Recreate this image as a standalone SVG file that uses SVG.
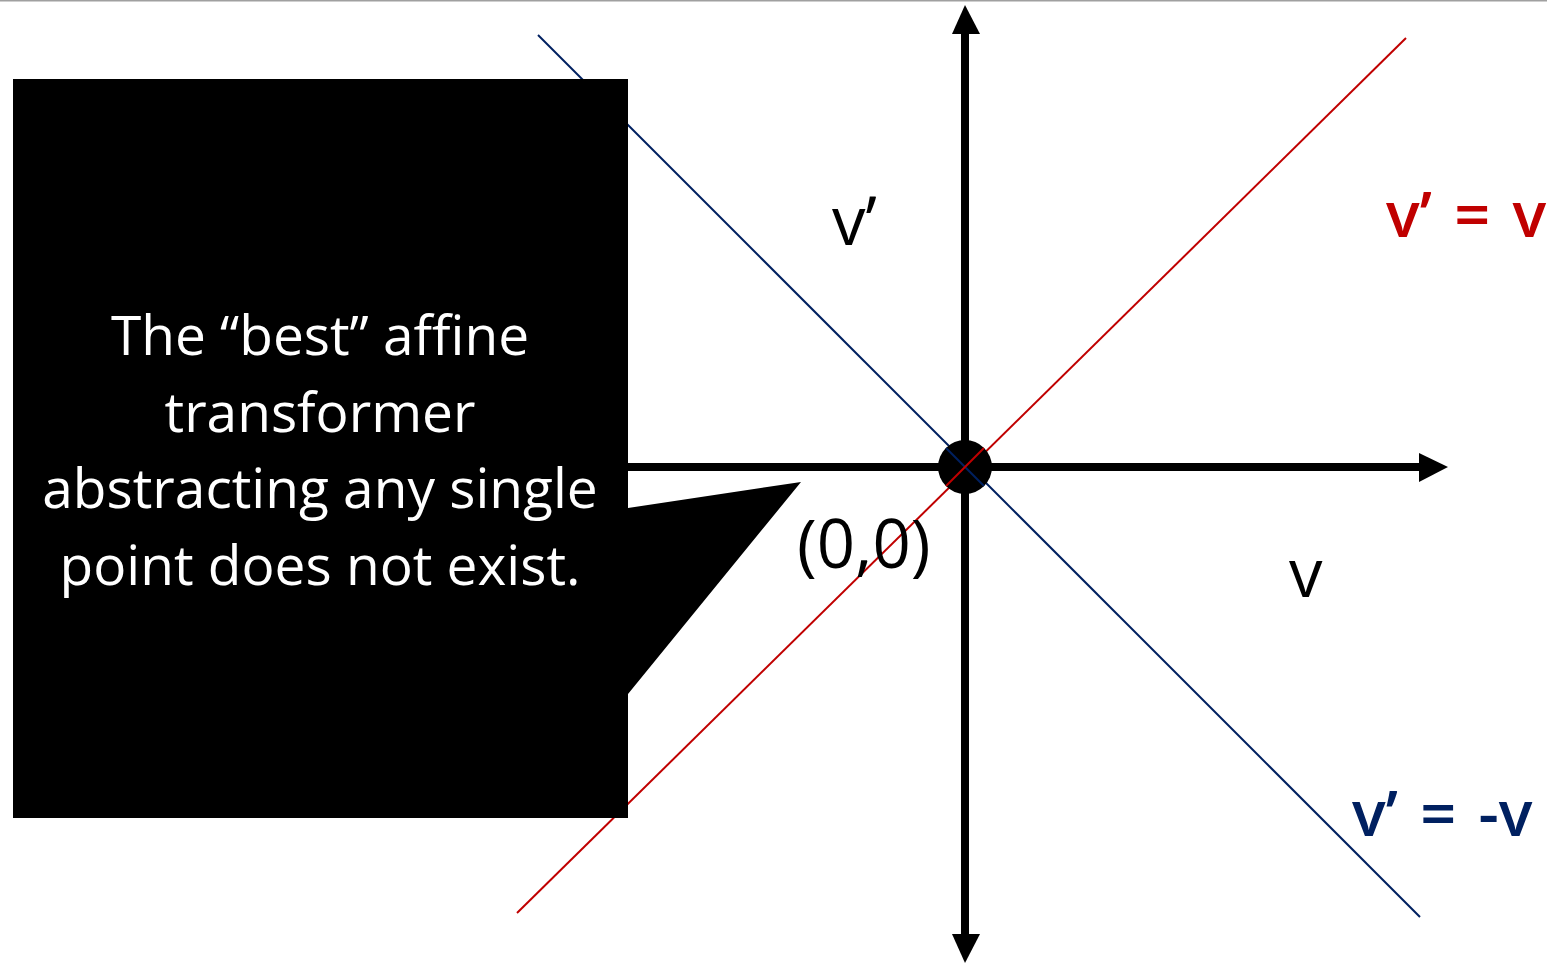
<svg xmlns="http://www.w3.org/2000/svg" width="1547" height="963" viewBox="0 0 1547 963">
<style>
.lbl{font-family:"Open Sans","Noto Sans",sans-serif;font-size:67px}
.clr{font-family:"Open Sans","Noto Sans",sans-serif;font-size:63px;font-weight:600;word-spacing:6px}
.call{font-family:"Open Sans","Noto Sans",sans-serif;font-size:55px;fill:#fff;text-anchor:middle}
.ax{stroke:#000;stroke-width:8;fill:none}
</style>
<rect width="1547" height="963" fill="#fff"/>
<line x1="0" y1="0.5" x2="1547" y2="0.5" stroke="#a0a0a0" stroke-width="2"/>
<g id="connectors">
<line class="ax" x1="965" y1="30" x2="965" y2="938"/>
<polygon points="965,5 952,34 980,34"/>
<polygon points="965,963 952,934 980,934"/>
<line class="ax" x1="400" y1="467" x2="1422" y2="467"/>
<polygon points="1448,467 1419,453 1419,482"/>
<line x1="538" y1="35" x2="1420" y2="917" stroke="#002060" stroke-width="2"/>
<line x1="1406" y1="38" x2="517" y2="913" stroke="#c00000" stroke-width="2"/>
</g>
<g id="origin"><circle cx="965" cy="467" r="27" fill="#000"/>
<line x1="946" y1="448" x2="984" y2="486" stroke="#002060" stroke-width="2"/>
<line x1="984" y1="448" x2="946" y2="486" stroke="#c00000" stroke-width="2"/></g>
<g id="labels">
<text class="lbl" x="832" y="245">v’</text>
<text class="lbl" x="797" y="568">(0,0)</text>
<text class="lbl" x="1289" y="597">v</text>
<text class="clr" x="1386" y="237" fill="#c00000">v’ = v</text>
<text class="clr" x="1352" y="836" fill="#002060">v’ = -v</text>
</g>
<g id="callout">
<path d="M13,79 H628 V508 L801,482 L628,694 V818 H13 Z" fill="#000"/>
<text class="call" x="320" y="355">The “best” affine</text>
<text class="call" x="320" y="432">transformer</text>
<text class="call" x="320" y="508">abstracting any single</text>
<text class="call" x="320" y="585">point does not exist.</text>
</g>
</svg>
